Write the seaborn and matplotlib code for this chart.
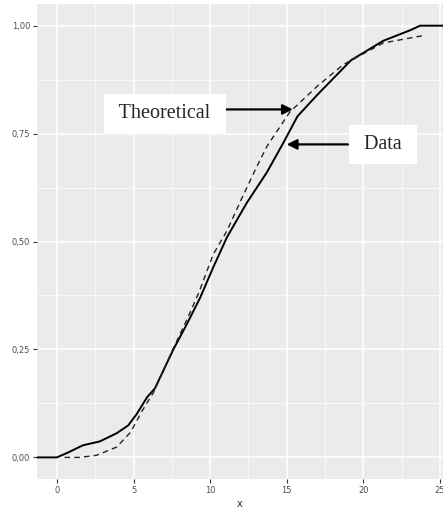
import matplotlib
matplotlib.use("Agg")
import matplotlib.pyplot as plt
import seaborn as sns
from matplotlib.ticker import FuncFormatter, MultipleLocator

# empirical curve ("Data")
data_x = [-1.3, 0.0, 0.65, 1.7, 2.8, 3.9, 4.65, 5.2, 5.9, 6.4, 7.6, 8.5, 9.35,
          10.2, 11.1, 12.4, 13.7, 14.8, 15.7, 17.0, 19.2, 21.3, 23.1, 23.7, 25.5]
data_y = [0.0, 0.0, 0.01, 0.028, 0.037, 0.056, 0.074, 0.10, 0.14, 0.16, 0.25, 0.31, 0.37,
          0.44, 0.51, 0.59, 0.66, 0.73, 0.79, 0.84, 0.92, 0.965, 0.99, 1.0, 1.0]

# theoretical curve
theo_x = [0.5, 1.5, 2.6, 3.9, 4.8, 5.6, 6.3, 7.5, 8.5, 9.3, 10.2, 11.1, 12.0,
          13.0, 13.7, 15.2, 17.0, 18.7, 21.3, 23.9]
theo_y = [0.0, 0.0, 0.005, 0.024, 0.058, 0.11, 0.15, 0.245, 0.32, 0.385, 0.47, 0.525, 0.595,
          0.67, 0.72, 0.80, 0.86, 0.91, 0.96, 0.977]

x_ticks = [0, 5, 10, 15, 20, 25]
y_ticks = [0.0, 0.25, 0.5, 0.75, 1.0]

sns.set_theme(style="darkgrid", rc={
    "axes.facecolor": "#EBEBEB",
    "grid.color": "white",
    "xtick.bottom": True,
    "ytick.left": True,
})

fig = plt.figure(figsize=(4.43, 5.12), dpi=100)
ax = fig.add_axes([0.0835, 0.0645, 0.9165, 0.9275])

sns.lineplot(x=data_x, y=data_y, ax=ax, color="black", lw=1.4,
             sort=False, estimator=None)
sns.lineplot(x=theo_x, y=theo_y, ax=ax, color="#222222", lw=1.0,
             sort=False, estimator=None, linestyle=(0, (4, 3)))

ax.set_xlim(-1.3, 25.2)
ax.set_ylim(-0.05, 1.05)
ax.set_xticks(x_ticks)
ax.set_yticks(y_ticks)
ax.xaxis.set_minor_locator(MultipleLocator(2.5))
ax.yaxis.set_minor_locator(MultipleLocator(0.125))
ax.yaxis.set_major_formatter(FuncFormatter(lambda v, p: f"{v:.2f}".replace(".", ",")))
ax.grid(which="major", color="white", lw=1.1)
ax.grid(which="minor", color="white", lw=0.5)
ax.tick_params(which="major", length=3, width=0.8, color="#333333",
               labelsize=6, labelcolor="#4D4D4D", pad=2)
ax.tick_params(which="minor", length=0)
for s in ax.spines.values():
    s.set_visible(False)
ax.set_xlabel("x", fontsize=7, labelpad=3)
ax.set_ylabel("")

box = dict(boxstyle="square,pad=0.5", fc="white", ec="none")
arrow = dict(arrowstyle="-|>,head_length=0.5,head_width=0.25", color="black", lw=1.6,
             shrinkA=0, shrinkB=0)
ax.annotate("", xy=(15.4, 0.806), xytext=(10.8, 0.806), arrowprops=arrow)
ax.annotate("", xy=(15.0, 0.725), xytext=(19.0, 0.725), arrowprops=arrow)
ax.text(7.06, 0.796, " Theoretical ", ha="center", va="center", fontsize=14.5,
        family="Liberation Serif", bbox=box)
ax.text(21.3, 0.725, " Data ", ha="center", va="center", fontsize=14.5,
        family="Liberation Serif", bbox=box)

fig.savefig("out.png", dpi=100)
